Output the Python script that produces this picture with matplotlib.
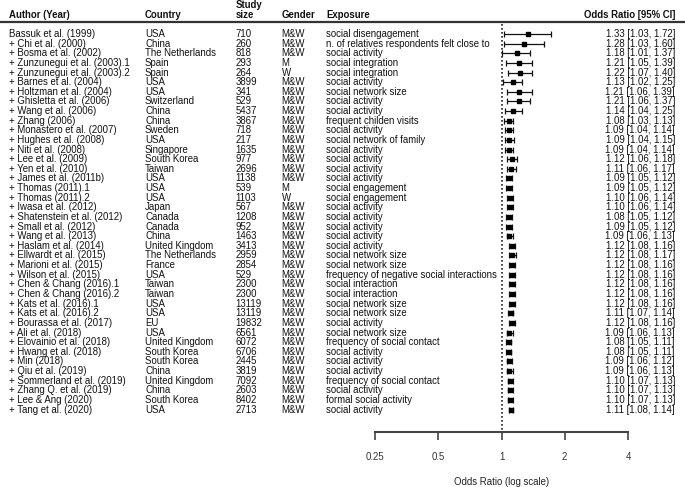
import matplotlib
matplotlib.use("Agg")
import matplotlib.pyplot as plt
import matplotlib.transforms as mtransforms
from matplotlib.lines import Line2D
from matplotlib.ticker import FixedLocator, NullLocator
import numpy as np

plt.rcParams['font.family'] = ['Liberation Sans', 'DejaVu Sans']

authors = ["Bassuk et al. (1999)", "+ Chi et al. (2000)", "+ Bosma et al. (2002)",
           "+ Zunzunegui et al. (2003).1", "+ Zunzunegui et al. (2003).2", "+ Barnes et al. (2004)",
           "+ Holtzman et al. (2004)", "+ Ghisletta et al. (2006)", "+ Wang et al. (2006)",
           "+ Zhang (2006)", "+ Monastero et al. (2007)", "+ Hughes et al. (2008)",
           "+ Niti et al. (2008)", "+ Lee et al. (2009)", "+ Yen et al. (2010)",
           "+ James et al. (2011b)", "+ Thomas (2011).1", "+ Thomas (2011).2",
           "+ Iwasa et al. (2012)", "+ Shatenstein et al. (2012)", "+ Small et al. (2012)",
           "+ Wang et al. (2013)", "+ Haslam et al. (2014)", "+ Ellwardt et al. (2015)",
           "+ Marioni et al. (2015)", "+ Wilson et al. (2015)", "+ Chen & Chang (2016).1",
           "+ Chen & Chang (2016).2", "+ Kats et al. (2016).1", "+ Kats et al. (2016).2",
           "+ Bourassa et al. (2017)", "+ Ali et al. (2018)", "+ Elovainio et al. (2018)",
           "+ Hwang et al. (2018)", "+ Min (2018)", "+ Qiu et al. (2019)",
           "+ Sommerland et al. (2019)", "+ Zhang Q. et al. (2019)", "+ Lee & Ang (2020)",
           "+ Tang et al. (2020)"]

countries = ["USA", "China", "The Netherlands", "Spain", "Spain", "USA", "USA", "Switzerland",
             "China", "China", "Sweden", "USA", "Singapore", "South Korea", "Taiwan", "USA",
             "USA", "USA", "Japan", "Canada", "Canada", "China", "United Kingdom",
             "The Netherlands", "France", "USA", "Taiwan", "Taiwan", "USA", "USA", "EU", "USA",
             "United Kingdom", "South Korea", "South Korea", "China", "United Kingdom", "China",
             "South Korea", "USA"]

study_size = [710, 260, 818, 293, 264, 3899, 341, 529, 5437, 3867, 718, 217, 1635, 977, 2696,
              1138, 539, 1103, 567, 1208, 952, 1463, 3413, 2959, 2854, 529, 2300, 2300, 13119,
              13119, 19832, 6561, 6072, 6706, 2445, 3819, 7092, 2603, 8402, 2713]

gender = ["M&W", "M&W", "M&W", "M", "W", "M&W", "M&W", "M&W", "M&W", "M&W", "M&W", "M&W",
          "M&W", "M&W", "M&W", "M&W", "M", "W", "M&W", "M&W", "M&W", "M&W", "M&W", "M&W",
          "M&W", "M&W", "M&W", "M&W", "M&W", "M&W", "M&W", "M&W", "M&W", "M&W", "M&W", "M&W",
          "M&W", "M&W", "M&W", "M&W"]

exposure = ["social disengagement", "n. of relatives respondents felt close to", "social activity",
            "social integration", "social integration", "social activity", "social network size",
            "social activity", "social activity", "frequent childen visits", "social activity",
            "social network of family", "social activity", "social activity", "social activity",
            "social activity", "social engagement", "social engagement", "social activity",
            "social activity", "social activity", "social activity", "social activity",
            "social network size", "social network size",
            "frequency of negative social interactions", "social interaction",
            "social interaction", "social network size", "social network size",
            "social activity", "social network size", "frequency of social contact",
            "social activity", "social activity", "social activity",
            "frequency of social contact", "social activity", "formal social activity",
            "social activity"]

odds_ratio = [1.33, 1.28, 1.18, 1.21, 1.22, 1.13, 1.21, 1.21, 1.14, 1.08, 1.09, 1.09, 1.09,
              1.12, 1.11, 1.09, 1.09, 1.10, 1.10, 1.08, 1.09, 1.09, 1.12, 1.12, 1.12, 1.12,
              1.12, 1.12, 1.12, 1.11, 1.12, 1.09, 1.08, 1.08, 1.09, 1.09, 1.10, 1.10, 1.10, 1.11]
ci_lower = [1.03, 1.03, 1.01, 1.05, 1.07, 1.02, 1.06, 1.06, 1.04, 1.03, 1.04, 1.04, 1.04,
            1.06, 1.06, 1.05, 1.05, 1.06, 1.06, 1.05, 1.05, 1.06, 1.08, 1.08, 1.08, 1.08,
            1.08, 1.08, 1.08, 1.07, 1.08, 1.06, 1.05, 1.05, 1.06, 1.06, 1.07, 1.07, 1.07, 1.08]
ci_upper = [1.72, 1.60, 1.37, 1.39, 1.40, 1.25, 1.39, 1.37, 1.25, 1.13, 1.14, 1.15, 1.14,
            1.18, 1.17, 1.12, 1.12, 1.14, 1.14, 1.12, 1.12, 1.13, 1.16, 1.17, 1.16, 1.16,
            1.16, 1.16, 1.16, 1.14, 1.16, 1.13, 1.11, 1.11, 1.12, 1.13, 1.13, 1.13, 1.13, 1.14]

x_ticks = [0.25, 0.5, 1, 2, 4]
x_tick_labels = ["0.25", "0.5", "1", "2", "4"]

# ---------------- layout -----------------
W, H = 685, 487
fig = plt.figure(figsize=(W / 100, H / 100), dpi=100)

row0_px = 34.0
row_step = 9.63
axis_px = 431.5
def px2row(p):
    return (p - row0_px) / row_step

ax_left_px, ax_right_px = 375, 628
ax = fig.add_axes([ax_left_px / W, (H - axis_px) / H, (ax_right_px - ax_left_px) / W, axis_px / H])
ax.set_xscale('log', base=2)
ax.set_xlim(x_ticks[0], x_ticks[-1])
ax.set_ylim(px2row(axis_px), px2row(0))
ax.patch.set_alpha(0)
for s in ['top', 'right', 'left']:
    ax.spines[s].set_visible(False)
ax.spines['bottom'].set_color('#444444')
ax.spines['bottom'].set_linewidth(1.5)
ax.yaxis.set_major_locator(NullLocator())
ax.xaxis.set_major_locator(FixedLocator(x_ticks))
ax.xaxis.set_minor_locator(NullLocator())
ax.set_xticklabels(x_tick_labels)
ax.tick_params(axis='x', direction='out', length=5.5, width=1.2, color='#444444',
               labelsize=6.9, labelcolor='#333333', pad=9)
ax.set_xlabel("Odds Ratio (log scale)", fontsize=6.9, color='#222222', labelpad=11)

fs = 6.9
txt_color = '#111111'
n = len(authors)
rows = np.arange(n)

# reference line
ax.vlines(1, px2row(24), px2row(axis_px), colors='#222222', linewidth=1.2,
          linestyles=(0, (1, 1.4)))

# CI bars
or_arr = np.array(odds_ratio)
lo = np.array(ci_lower)
hi = np.array(ci_upper)
ax.errorbar(or_arr, rows, xerr=[or_arr - lo, hi - or_arr], fmt='s', color='black',
            ecolor='#111111', elinewidth=0.9, capsize=2.0, capthick=0.9,
            markersize=3.3, clip_on=False)

# text columns
tr = mtransforms.blended_transform_factory(fig.transFigure, ax.transData)
col_author, col_country, col_size, col_gender, col_exp, col_or = 9, 145, 235.5, 281.5, 326.5, 675

for i in range(n):
    kw = dict(transform=tr, fontsize=fs, va='center', color=txt_color)
    ax.text(col_author / W, i, authors[i], ha='left', **kw)
    ax.text(col_country / W, i, countries[i], ha='left', **kw)
    ax.text(col_size / W, i, str(study_size[i]), ha='left', **kw)
    ax.text(col_gender / W, i, gender[i], ha='left', **kw)
    ax.text(col_exp / W, i, exposure[i], ha='left', **kw)
    ax.text(col_or / W, i, f"{odds_ratio[i]:.2f} [{ci_lower[i]:.2f}, {ci_upper[i]:.2f}]",
            ha='right', **kw)

# headers
hy = px2row(15)
hkw = dict(transform=tr, fontsize=fs, fontweight='bold', va='center', color=txt_color)
ax.text(col_author / W, hy, "Author (Year)", ha='left', **hkw)
ax.text(col_country / W, hy, "Country", ha='left', **hkw)
ax.text(col_size / W, px2row(5), "Study", ha='left', **hkw)
ax.text(col_size / W, hy, "size", ha='left', **hkw)
ax.text(col_gender / W, hy, "Gender", ha='left', **hkw)
ax.text(col_exp / W, hy, "Exposure", ha='left', **hkw)
ax.text(col_or / W, hy, "Odds Ratio [95% CI]", ha='right', **hkw)

# header rule
line = Line2D([0, 1], [px2row(21.5), px2row(21.5)], transform=tr, color='#333333',
              linewidth=1.6, clip_on=False)
fig.add_artist(line)

fig.savefig("out.png", dpi=100)
